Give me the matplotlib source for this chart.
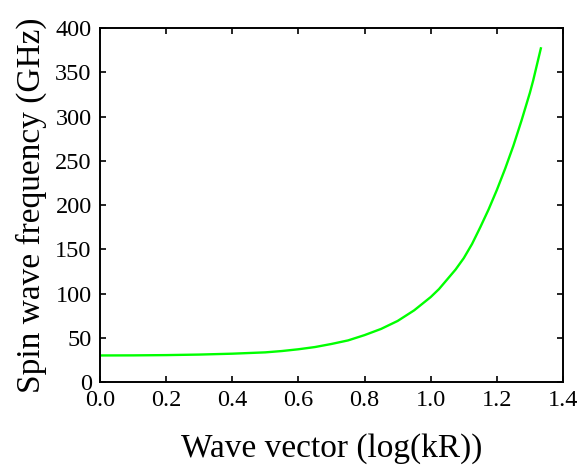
import numpy as np
from matplotlib import pyplot as plt

# wave vector (log(kR)) and spin wave frequency (GHz)
log_kr = [0.0, 0.1, 0.2, 0.3, 0.4, 0.5, 0.55, 0.6, 0.65, 0.7, 0.75, 0.8,
          0.85, 0.9, 0.95, 1.0, 1.025, 1.05, 1.075, 1.1, 1.125, 1.15,
          1.175, 1.2, 1.225, 1.25, 1.275, 1.3, 1.31, 1.333]
freq_ghz = [30, 30.1, 30.4, 31, 32, 33.5, 35, 37, 39.5, 43, 47, 53,
            60, 69, 81, 96, 105, 116, 127, 140, 156, 175,
            195, 217, 241, 267, 296, 327, 341, 377]

x_ticks = [0.0, 0.2, 0.4, 0.6, 0.8, 1.0, 1.2, 1.4]
y_ticks = [0, 50, 100, 150, 200, 250, 300, 350, 400]

plt.rcParams["font.family"] = ["Liberation Serif", "DejaVu Serif"]

fig = plt.figure(figsize=(5.8, 4.67), dpi=100)
ax = fig.add_axes([0.1724, 0.182, 0.7983, 0.758])

ax.plot(log_kr, freq_ghz, color="#00ff00", linewidth=1.7,
        solid_joinstyle="round")

ax.set_xlim(0, 1.4)
ax.set_ylim(0, 400)
ax.set_xticks(x_ticks)
ax.set_xticklabels([f"{t:.1f}" for t in x_ticks])
ax.set_yticks(y_ticks)
ax.tick_params(direction="in", length=4, width=1.2, labelsize=17.5,
               top=True, right=True)
ax.tick_params(axis="y", pad=6)
ax.tick_params(axis="x", pad=6)
for s in ax.spines.values():
    s.set_linewidth(1.4)

ax.set_xlabel("Wave vector (log(kR))", fontsize=24, labelpad=16)
ax.set_ylabel("Spin wave frequency (GHz)", fontsize=24, labelpad=6)

fig.savefig("out.png", dpi=100)
